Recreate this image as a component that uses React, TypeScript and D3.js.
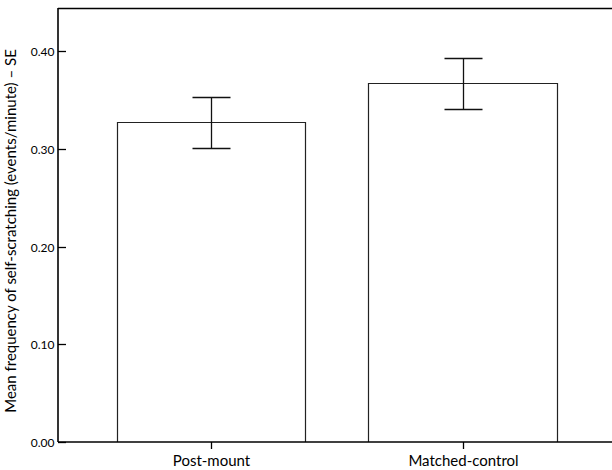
import React from "react";
import * as d3 from "d3";

const categories = ["Post-mount", "Matched-control"];
const means = [0.328, 0.3674];
const errLow = [0.3015, 0.3415];
const errHigh = [0.3537, 0.393];
const yTicks = [0.0, 0.1, 0.2, 0.3, 0.4];
const yTitle = "Mean frequency of self-scratching (events/minute) \u2013 SE";

const W = 612;
const H = 470;
const left = 58;
const top = 8;
const bottom = 442;
const font = "Lato, 'Open Sans', sans-serif";

export default function App() {
  const y = d3.scaleLinear().domain([0, 0.4445]).range([bottom, top]);
  const x = d3
    .scaleBand<string>()
    .domain(categories)
    .range([left, 615.8])
    .paddingInner(0.25)
    .paddingOuter(0.233);
  const bw = x.bandwidth();
  const capW = 38;

  return (
    <svg
      width={W}
      height={H}
      style={{ position: "absolute", left: 0, top: 0, display: "block", background: "#fff" }}
    >
      <rect x={0} y={0} width={W} height={H} fill="#fff" />
      {categories.map((c, i) => {
        const x0 = Math.round(x(c)!) + 0.5;
        const x1 = Math.round(x(c)! + bw) + 0.5;
        const yt = Math.round(y(means[i])) + 0.5;
        return (
          <path
            key={c}
            d={`M${x0},${bottom}V${yt}H${x1}V${bottom}`}
            fill="#fff"
            stroke="#222"
            strokeWidth={1.2}
          />
        );
      })}
      {categories.map((c, i) => {
        const cx = Math.round(x(c)! + bw / 2) + 0.5;
        const yh = Math.round(y(errHigh[i])) + 0.5;
        const yl = Math.round(y(errLow[i])) + 0.5;
        return (
          <g key={c + "e"} stroke="#111" strokeWidth={1.3} fill="none">
            <line x1={cx} x2={cx} y1={yh} y2={yl} />
            <line x1={cx - capW / 2} x2={cx + capW / 2} y1={yh} y2={yh} />
            <line x1={cx - capW / 2} x2={cx + capW / 2} y1={yl} y2={yl} />
          </g>
        );
      })}
      <line x1={left} x2={W} y1={top + 0.5} y2={top + 0.5} stroke="#000" strokeWidth={1.3} />
      <line x1={left} x2={left} y1={top} y2={bottom} stroke="#000" strokeWidth={1.6} />
      <line x1={left} x2={W} y1={bottom} y2={bottom} stroke="#000" strokeWidth={1.6} />
      {yTicks.map((t) => {
        const yy = Math.round(y(t)) + 0.5;
        return (
          <g key={t}>
            <line x1={left} x2={left + 8} y1={yy} y2={yy} stroke="#000" strokeWidth={1.3} />
            <text
              x={left - 3.5}
              y={yy}
              dy="0.36em"
              textAnchor="end"
              fontFamily={font}
              fontSize={12}
              fill="#000"
            >
              {d3.format(".2f")(t)}
            </text>
          </g>
        );
      })}
      {categories.map((c) => {
        const cx = Math.round(x(c)! + bw / 2) + 0.5;
        return (
          <g key={c + "t"}>
            <line x1={cx} x2={cx} y1={bottom} y2={bottom + 7} stroke="#000" strokeWidth={1.3} />
            <text
              x={cx}
              y={466}
              textAnchor="middle"
              fontFamily={font}
              fontSize={15}
              fill="#000"
            >
              {c}
            </text>
          </g>
        );
      })}
      <text
        transform={`translate(15.5,231) rotate(-90)`}
        textAnchor="middle"
        fontFamily={font}
        fontSize={15}
        fill="#000"
      >
        {yTitle}
      </text>
    </svg>
  );
}
